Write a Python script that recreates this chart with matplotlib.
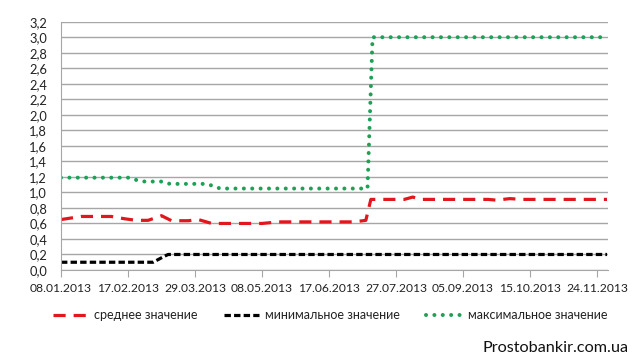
import numpy as np
import pandas as pd
import matplotlib
matplotlib.use("Agg")
import matplotlib.pyplot as plt
import matplotlib.dates as mdates

plt.rcParams['font.family'] = ['Lato', 'DejaVu Sans']

# values
mean_dates = ["2013-01-08", "2013-01-20", "2013-02-07", "2013-02-15", "2013-02-22",
              "2013-03-01", "2013-03-09", "2013-03-15", "2013-03-25", "2013-03-31",
              "2013-04-08", "2013-05-08", "2013-05-18", "2013-07-02", "2013-07-09",
              "2013-07-12", "2013-08-01", "2013-08-06", "2013-08-11", "2013-09-20",
              "2013-09-25", "2013-10-03", "2013-10-10", "2013-11-30"]
mean_vals = [0.65, 0.69, 0.69, 0.66, 0.64,
             0.64, 0.70, 0.635, 0.635, 0.65,
             0.60, 0.60, 0.62, 0.62, 0.64,
             0.91, 0.91, 0.94, 0.91, 0.91,
             0.90, 0.92, 0.91, 0.91]

min_dates = ["2013-01-08", "2013-03-04", "2013-03-11", "2013-03-13", "2013-11-30"]
min_vals = [0.10, 0.10, 0.18, 0.20, 0.20]

max_dates = ["2013-01-08", "2013-02-17", "2013-02-22", "2013-02-27", "2013-03-09",
             "2013-03-14", "2013-04-03", "2013-04-08", "2013-04-13", "2013-07-10",
             "2013-07-13", "2013-11-30"]
max_vals = [1.19, 1.19, 1.16, 1.14, 1.14,
            1.11, 1.11, 1.09, 1.05, 1.05,
            3.00, 3.00]

labels = ["среднее значение", "минимальное значение", "максимальное значение"]

fig = plt.figure(figsize=(6.4, 3.59), dpi=100)
ax = fig.add_axes([61/640, 1-270/359, (608-61)/640, (270-21.7)/359])

ax.plot(pd.to_datetime(mean_dates), mean_vals, color='#E2161C', lw=2.3,
        linestyle=(0, (3.8, 2.5)), dash_capstyle='butt', label=labels[0])
ax.plot(pd.to_datetime(min_dates), min_vals, color='black', lw=2.3,
        linestyle=(0, (2.0, 1.0)), dash_capstyle='butt', label=labels[1])
ax.plot(pd.to_datetime(max_dates), max_vals, color='#1EA157', lw=2.9,
        linestyle=(0, (0.01, 2.07)), dash_capstyle='round', label=labels[2])

ax.set_ylim(0, 3.2)
ax.set_yticks(np.arange(0, 3.21, 0.2))
ax.set_yticklabels([f"{v:.1f}".replace('.', ',') for v in np.arange(0, 3.21, 0.2)])
start = pd.Timestamp("2013-01-08")
ax.set_xlim(start, pd.Timestamp("2013-11-30 14:00"))
ticks = [start + pd.Timedelta(days=40 * i) for i in range(9)]
ax.set_xticks(ticks)
ax.xaxis.set_major_formatter(mdates.DateFormatter('%d.%m.%Y'))

ax.grid(axis='y', color='#A6A6A6', lw=1)
ax.set_axisbelow(True)
for s in ['top', 'right']:
    ax.spines[s].set_visible(False)
for s in ['left', 'bottom']:
    ax.spines[s].set_color('#A6A6A6')
ax.tick_params(axis='x', length=5, color='#A6A6A6', labelsize=8.7, labelcolor='#222222', pad=4)
ax.tick_params(axis='y', length=0, labelsize=9.3, labelcolor='#222222', pad=10)

fig.legend(loc='center', bbox_to_anchor=(330/640, 1-315/359), ncol=3, frameon=False,
           fontsize=9, handlelength=2.8, columnspacing=2.1, handletextpad=0.5,
           labelcolor='#222222')

fig.text(628/640, 1-348/359, "Prostobankir.com.ua", ha='right', va='center',
         fontsize=11.7, color='#111111')

fig.savefig("out.png", dpi=100)
